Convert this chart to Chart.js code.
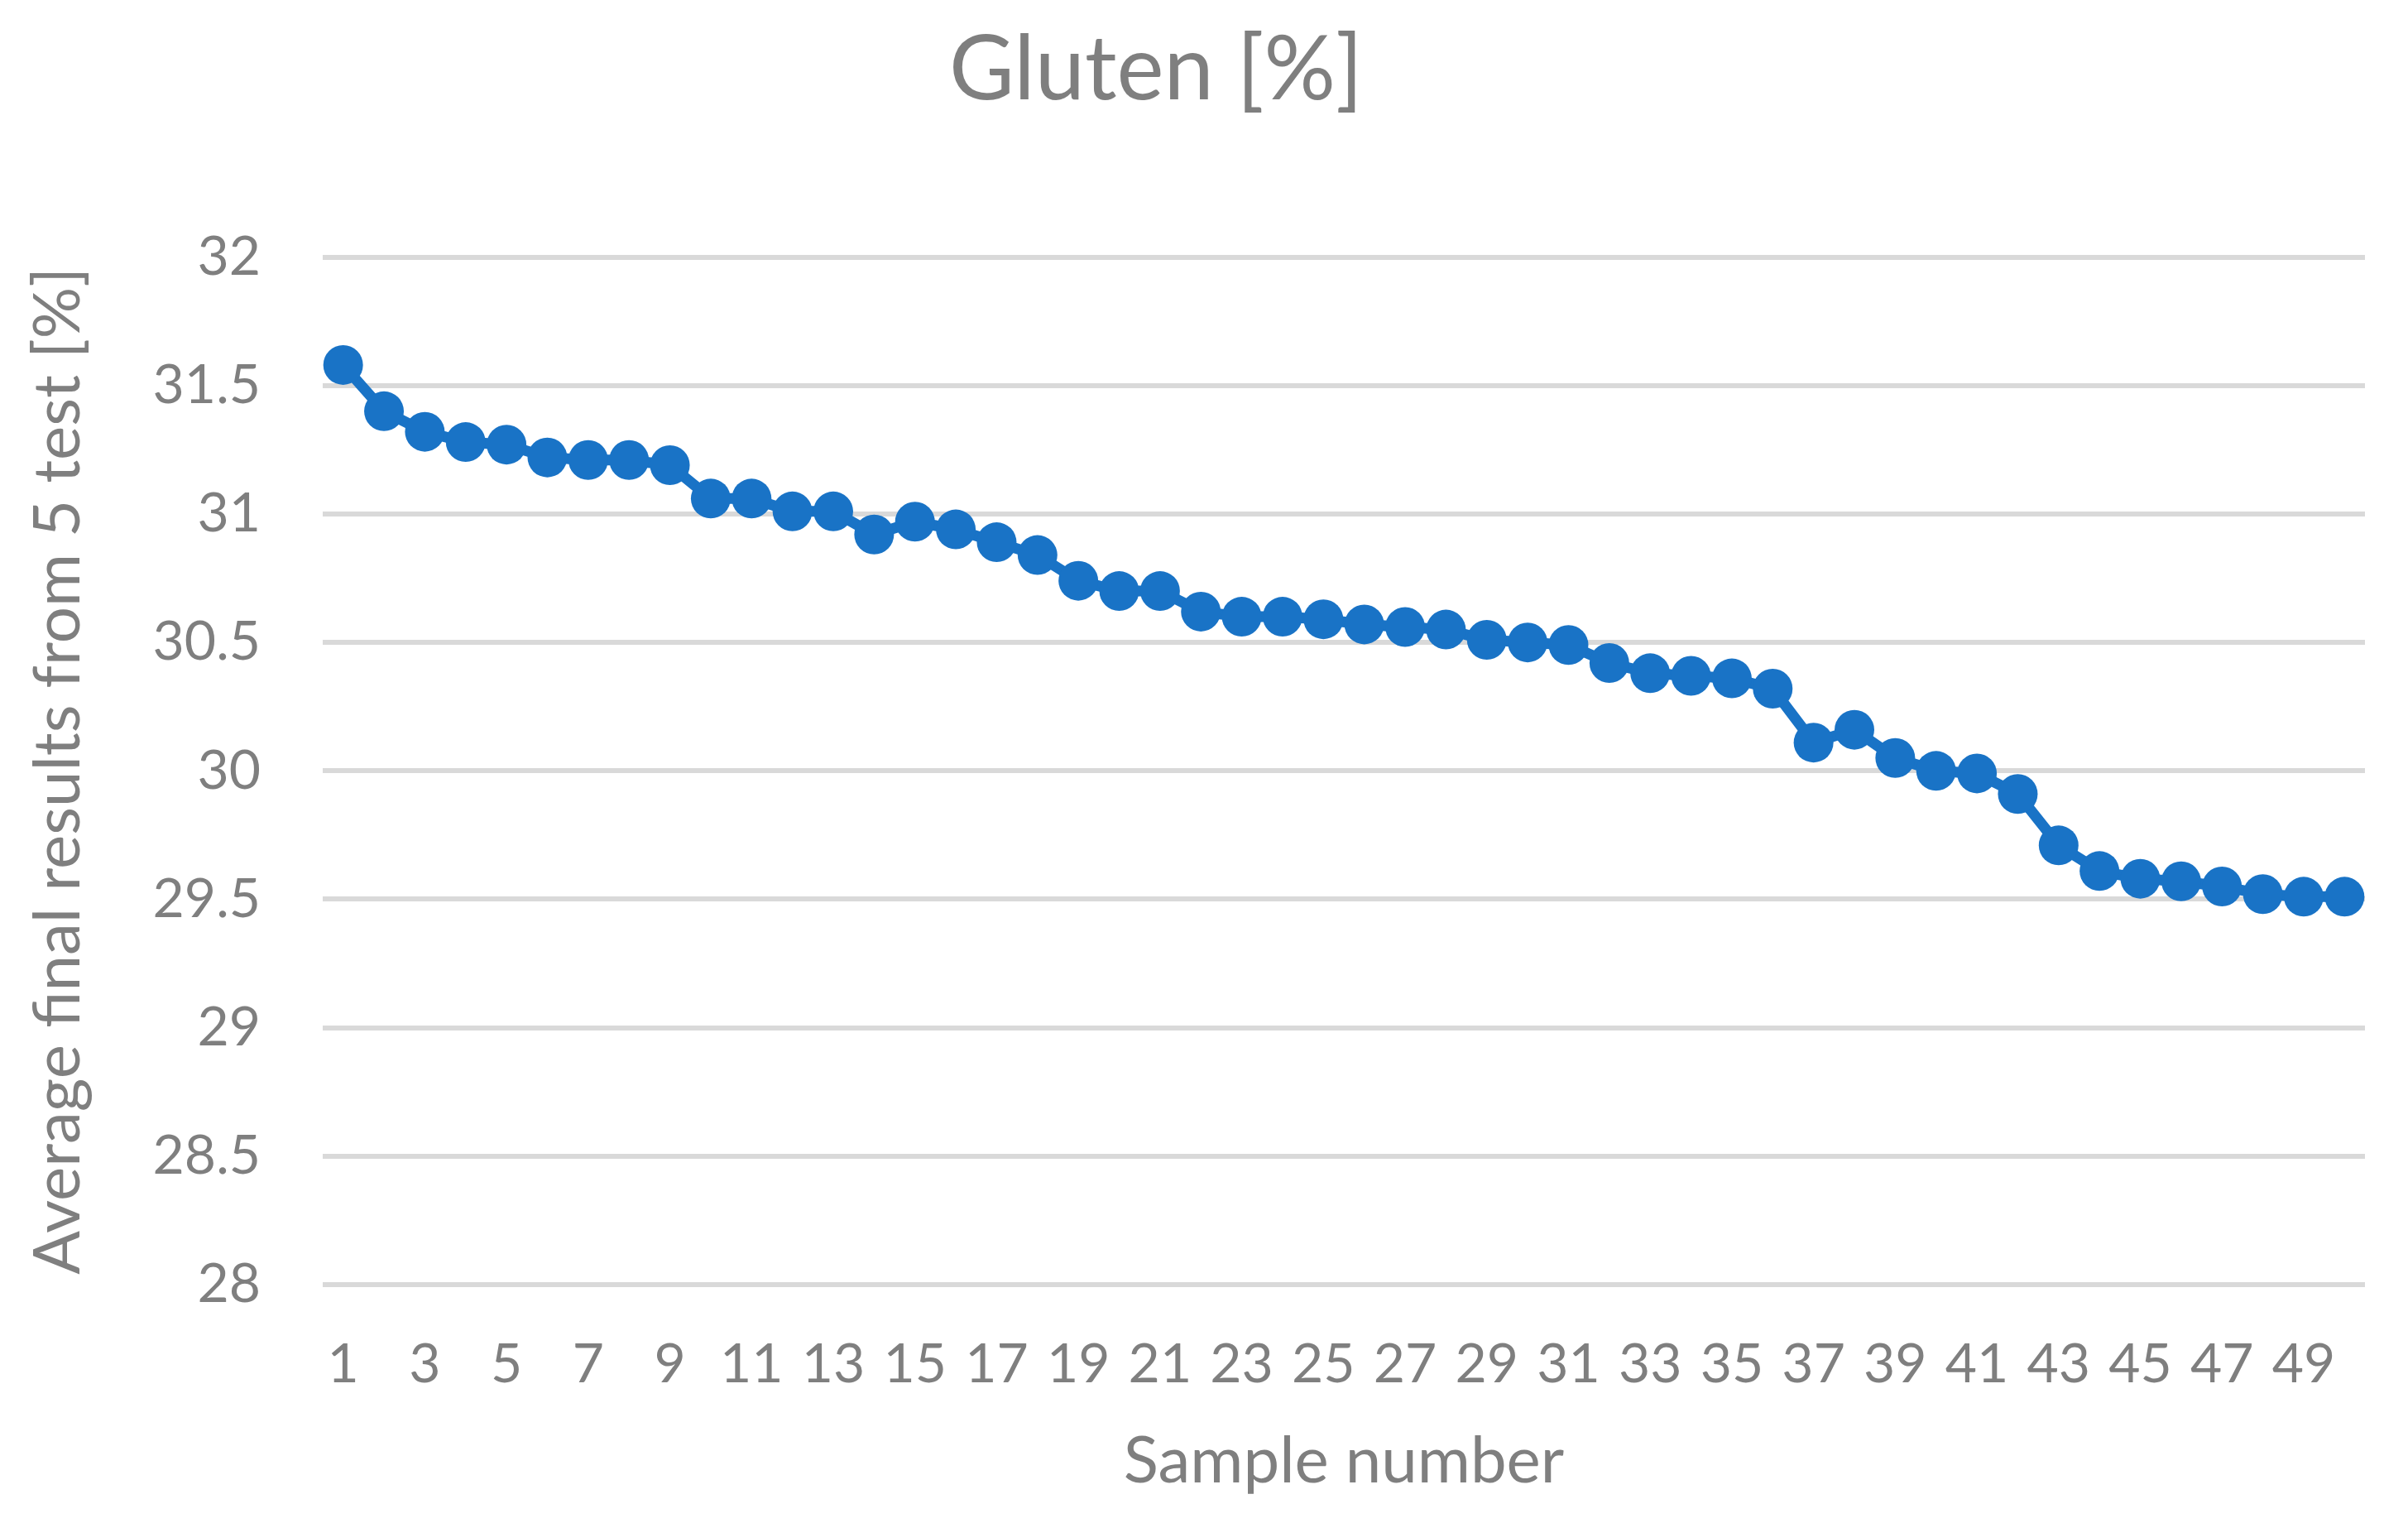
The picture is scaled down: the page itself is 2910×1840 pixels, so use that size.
<!DOCTYPE html>
<html>
<head>
<meta charset="utf-8">
<title>Gluten [%]</title>
<script src="https://cdn.jsdelivr.net/npm/chart.js@4.4.1/dist/chart.umd.min.js"></script>
<style>
  html, body { margin: 0; padding: 0; background: #fff; }
  #wrap { width: 2910px; height: 1840px; position: relative; }
</style>
</head>
<body>
<div id="wrap"><canvas id="glutenChart"></canvas></div>
<script>
// ── Data ──
const sampleNumbers = [
  1, 2, 3, 4, 5, 6, 7, 8, 9, 10,
  11, 12, 13, 14, 15, 16, 17, 18, 19, 20,
  21, 22, 23, 24, 25, 26, 27, 28, 29, 30,
  31, 32, 33, 34, 35, 36, 37, 38, 39, 40,
  41, 42, 43, 44, 45, 46, 47, 48, 49, 50
];

const glutenAvg = [
  31.58, 31.40, 31.32, 31.28, 31.27, 31.22, 31.21, 31.21, 31.19, 31.06,
  31.06, 31.01, 31.01, 30.92, 30.97, 30.94, 30.89, 30.84, 30.74, 30.70,
  30.70, 30.62, 30.60, 30.60, 30.59, 30.57, 30.56, 30.55, 30.51, 30.50,
  30.49, 30.42, 30.38, 30.37, 30.36, 30.32, 30.11, 30.16, 30.05, 30.00,
  29.99, 29.91, 29.71, 29.61, 29.58, 29.57, 29.55, 29.52, 29.51, 29.51
];

const yMin = 28;
const yMax = 32;
const yStep = 0.5;

// ── Styling ──
const GREY = '#7f7f7f';
const GRID = '#d9d9d9';
const BLUE = '#1973c6';
const FONT = 'Lato, "Open Sans", sans-serif';

// Excel centres the title a bit left of the chart middle
const titleShift = {
  id: 'titleShift',
  afterLayout(chart) {
    if (chart.titleBlock) {
      chart.titleBlock.left -= 32;
      chart.titleBlock.right -= 32;
    }
  }
};

const ctx = document.getElementById('glutenChart');

new Chart(ctx, {
  type: 'line',
  data: {
    labels: sampleNumbers.map(String),
    datasets: [{
      label: 'Gluten',
      data: glutenAvg,
      borderColor: BLUE,
      backgroundColor: BLUE,
      borderWidth: 13,
      pointRadius: 24,
      pointHoverRadius: 24,
      pointBorderWidth: 0,
      pointBackgroundColor: BLUE,
      tension: 0,
      fill: false
    }]
  },
  options: {
    responsive: true,
    maintainAspectRatio: false,
    animation: false,
    layout: { padding: { left: 0, right: 52, top: 0, bottom: 0 } },
    plugins: {
      legend: { display: false },
      tooltip: { enabled: false },
      title: {
        display: true,
        text: 'Gluten [%]',
        color: GREY,
        font: { family: FONT, size: 108, weight: 'normal' },
        padding: { top: 20, bottom: 161 }
      }
    },
    scales: {
      x: {
        type: 'category',
        offset: true,
        grid: { display: false, drawTicks: false },
        border: { display: false },
        ticks: {
          color: GREY,
          font: { family: FONT, size: 66 },
          autoSkip: false,
          maxRotation: 0,
          minRotation: 0,
          padding: 57,
          callback: function (value, index) {
            return index % 2 === 0 ? this.getLabelForValue(value) : '';
          }
        },
        title: {
          display: true,
          text: 'Sample number',
          color: GREY,
          font: { family: FONT, size: 78 },
          padding: { top: 0, bottom: 27 }
        },
        afterFit: scale => { scale.height = 288; }
      },
      y: {
        min: yMin,
        max: yMax,
        grid: { color: GRID, lineWidth: 6, drawTicks: false },
        border: { display: false },
        ticks: {
          stepSize: yStep,
          color: GREY,
          font: { family: FONT, size: 66 },
          padding: 75,
          callback: v => String(Number(v))
        },
        title: {
          display: true,
          text: 'Average final results from 5 test [%]',
          color: GREY,
          font: { family: FONT, size: 78 },
          padding: { top: 24, bottom: 0 }
        },
        afterFit: scale => { scale.width = 390; }
      }
    }
  },
  plugins: [titleShift]
});
</script>
</body>
</html>
